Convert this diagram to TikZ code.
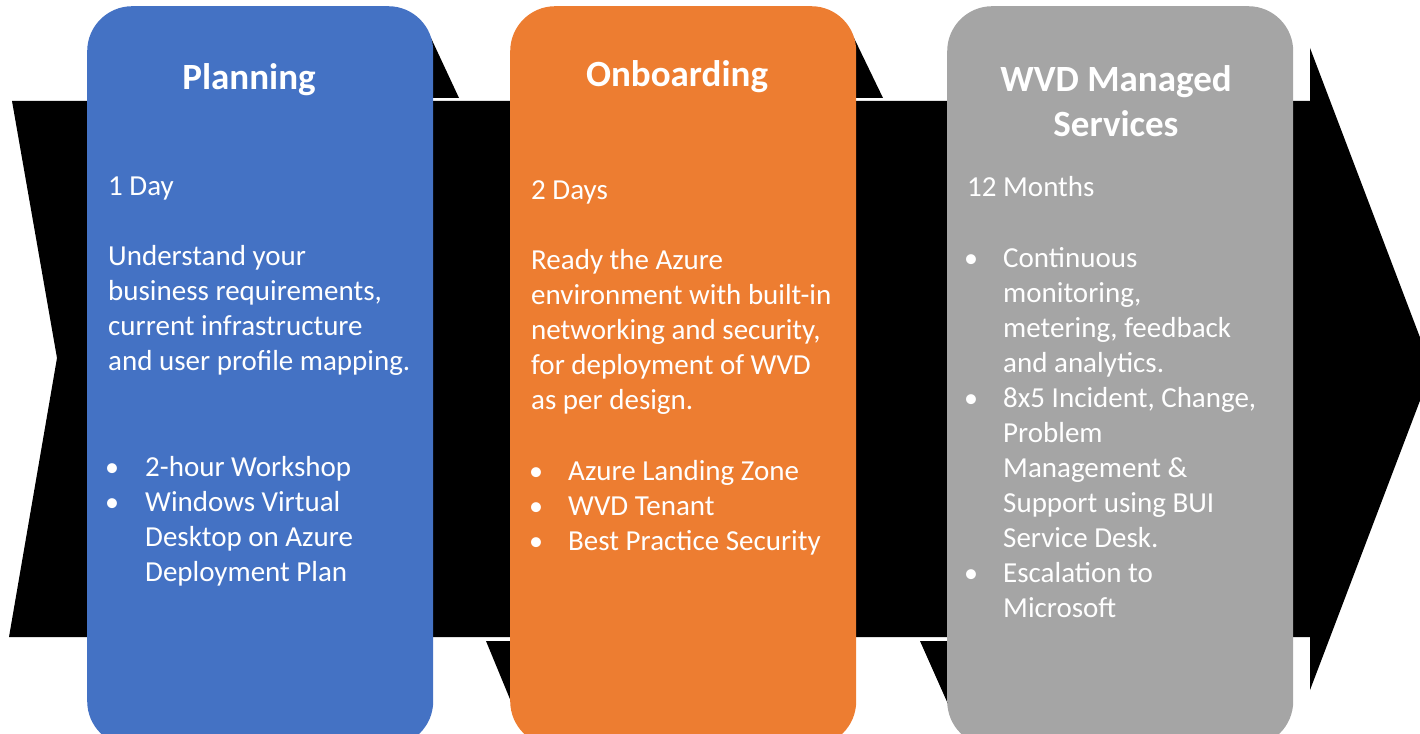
\documentclass[tikz,border=0pt]{standalone}
\usepackage{fontspec}
\setmainfont{Carlito}
\definecolor{planblue}{HTML}{4472C4}
\definecolor{onboardorange}{HTML}{ED7D31}
\definecolor{servicegray}{HTML}{A5A5A5}
\tikzset{
  phasebox/.style={rounded corners=45pt, minimum width=346pt, minimum height=740pt,
    inner sep=0pt, anchor=north west},
  phasetitle/.style={text=white, font=\bfseries\fontsize{37}{45}\selectfont,
    align=center, anchor=north, inner sep=0pt},
  phasetext/.style={text=white, font=\fontsize{29}{35}\selectfont,
    align=left, anchor=north west, inner sep=0pt},
  bulletdot/.style={text=white, font=\fontsize{28}{35}\selectfont,
    anchor=base, inner sep=0pt}
}
\begin{document}
\begin{tikzpicture}[x=1pt, y=-1pt]
\useasboundingbox (0,0) rectangle (1420,733);

% big arrow behind the phases
\fill[black] (12,101) -- (1310,101) -- (1310,48) -- (1432,369) -- (1310,690)
  -- (1310,637) -- (9,637) -- (57,358) -- cycle;
\fill[black] (431,38) -- (459,98) -- (425,98) -- cycle;
\fill[black] (854,38) -- (883,98) -- (848,98) -- cycle;
\fill[black] (486,641) -- (512,704) -- (545,704) -- (545,641) -- cycle;
\fill[black] (920,641) -- (948,704) -- (980,704) -- (980,641) -- cycle;

% phase boxes
\node[phasebox, fill=planblue] (planning) at (87,6) {};
\node[phasebox, fill=onboardorange] (onboarding) at (510,6) {};
\node[phasebox, fill=servicegray] (managed) at (947,6) {};

% Planning
\node[phasetitle] (planT) at (249,57.5) {\strut Planning};
\node[phasetext] (planD) at (108,170.5) {\strut 1 Day};
\node[phasetext] (planP) at (108,240.5) {\strut Understand your\\business requirements,\\current infrastructure\\and user profile mapping.};
\node[bulletdot] (planB1) at (112,476) {•};
\node[phasetext] (planI1) at (145,451.5) {\strut 2-hour Workshop};
\node[bulletdot] (planB2) at (112,511) {•};
\node[phasetext] (planI2) at (145,486.5) {\strut Windows Virtual\\Desktop on Azure\\Deployment Plan};

% Onboarding
\node[phasetitle] (onbT) at (677,54.5) {\strut Onboarding};
\node[phasetext] (onbD) at (531,174.5) {\strut 2 Days};
\node[phasetext] (onbP) at (531,244.5) {\strut Ready the Azure\\environment with built-in\\networking and security,\\for deployment of WVD\\as per design.};
\node[bulletdot] (onbB1) at (536,480) {•};
\node[phasetext] (onbI1) at (568,455.5) {\strut Azure Landing Zone};
\node[bulletdot] (onbB2) at (536,515) {•};
\node[phasetext] (onbI2) at (568,490.5) {\strut WVD Tenant};
\node[bulletdot] (onbB3) at (536,550) {•};
\node[phasetext] (onbI3) at (568,525.5) {\strut Best Practice Security};

% WVD Managed Services
\node[phasetitle] (mgdT) at (1116,59.5) {\strut WVD Managed\\Services};
\node[phasetext] (mgdD) at (967,171.5) {\strut 12 Months};
\node[bulletdot] (mgdB1) at (971,267) {•};
\node[phasetext] (mgdI1) at (1003,242.5) {\strut Continuous\\monitoring,\\metering, feedback\\and analytics.};
\node[bulletdot] (mgdB2) at (971,407) {•};
\node[phasetext] (mgdI2) at (1003,382.5) {\strut 8x5 Incident, Change,\\Problem\\Management \&\\Support using BUI\\Service Desk.};
\node[bulletdot] (mgdB3) at (971,582) {•};
\node[phasetext] (mgdI3) at (1003,557.5) {\strut Escalation to\\Microsoft};

\end{tikzpicture}
\end{document}
